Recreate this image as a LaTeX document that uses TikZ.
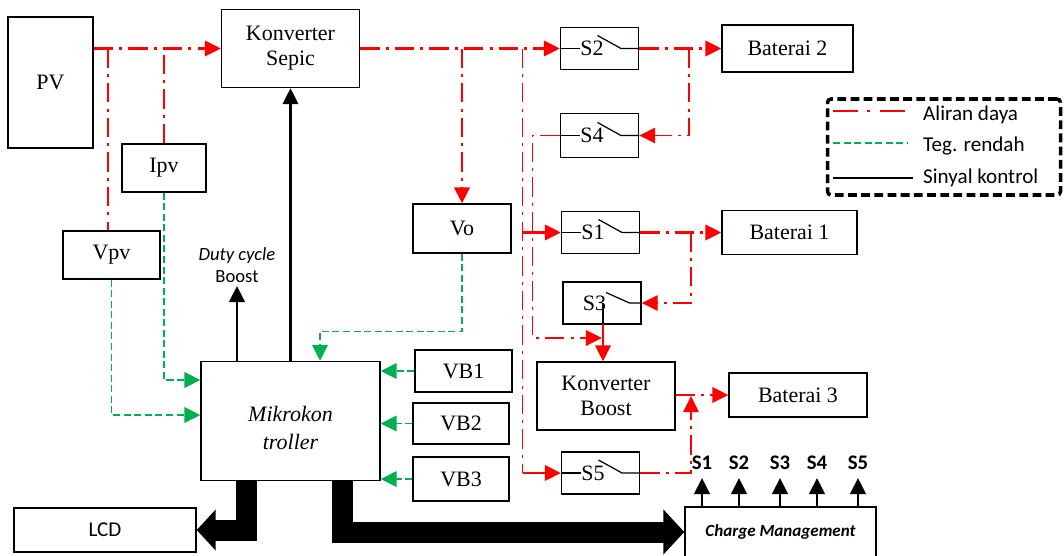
\documentclass[tikz,border=0pt]{standalone}
\usepackage{fontspec}
\setmainfont{Liberation Serif}
\newfontfamily\calibri{Carlito}
\usetikzlibrary{arrows.meta}

\definecolor{dayared}{RGB}{255,0,0}
\definecolor{teggreen}{RGB}{0,176,80}

\begin{document}
\begin{tikzpicture}[every node/.style={font=\fontsize{12.5}{14.2}\selectfont}, line cap=butt, >={Triangle[length=0.32cm,width=0.31cm]},
  blok/.style={draw, line width=0.8pt, inner sep=1pt, align=center},
  sw/.style={blok, minimum width=1.56cm, minimum height=0.84cm},
  sans/.style={font=\calibri\fontsize{12}{14}\selectfont},
  daya/.style={draw=dayared, line width=1.2pt, dash pattern=on 11pt off 3.5pt on 1.7pt off 3.5pt},
  dayatipis/.style={daya, line width=0.8pt},
  dayalurus/.style={daya, solid},
  teg/.style={draw=teggreen, line width=1.1pt, dash pattern=on 4pt off 2pt},
  kontrol/.style={draw=black, line width=1.4pt},
  wire/.style={draw, line width=0.7pt},
  fat/.style={draw, line width=0.42cm}]

\useasboundingbox (0,0) rectangle (21.28,11.1);

% ---------- sumber, sensor dan konverter ----------
\node[blok, minimum width=1.70cm, minimum height=2.62cm] (pv) at (1.01,9.45) {PV};
\node[blok, minimum width=2.76cm, minimum height=1.56cm] (sepic) at (5.81,10.13) {Konverter\\Sepic};
\node[blok, minimum width=1.68cm, minimum height=0.96cm] (ipv) at (3.28,7.74) {Ipv};
\node[blok, minimum width=1.94cm, minimum height=0.96cm] (vpv) at (2.23,6.00) {Vpv};
\node[blok, minimum width=1.96cm, minimum height=0.98cm] (vo) at (9.24,6.53) {Vo};
\node[blok, minimum width=3.58cm, minimum height=2.38cm, font=\itshape\fontsize{12.5}{16}\selectfont] (mcu) at (5.81,2.68) {\rule{0pt}{0.58cm}Mikrokon\\troller};
\node[blok, minimum width=1.94cm, minimum height=0.84cm] (vb1) at (9.27,3.68) {VB1};
\node[blok, minimum width=1.92cm, minimum height=0.82cm] (vb2) at (9.22,2.63) {VB2};
\node[blok, minimum width=1.92cm, minimum height=0.88cm] (vb3) at (9.22,1.52) {VB3};
\node[blok, sans, minimum width=3.64cm, minimum height=0.88cm] (lcd) at (2.10,0.50) {LCD};
\node[blok, font=\calibri\bfseries\itshape\fontsize{9.7}{12}\selectfont, minimum width=3.82cm, minimum height=1.0cm] (chg) at (15.61,0.46) {Charge Management};

% ---------- saklar dan baterai ----------
\node[sw] (s2) at (11.99,10.13) {S2\hspace{0.3cm}};
\node[sw, minimum height=0.88cm] (s4) at (11.99,8.39) {S4\hspace{0.3cm}};
\node[sw] (s1) at (12.01,6.45) {S1\hspace{0.3cm}};
\node[sw] (s3) at (12.04,5.04) {S3\hspace{0.3cm}};
\node[sw] (s5) at (12.01,1.64) {S5\hspace{0.3cm}};
\node[blok, minimum width=2.62cm, minimum height=0.94cm] (bat2) at (15.75,10.13) {Baterai 2};
\node[blok, minimum width=2.70cm, minimum height=0.88cm] (bat1) at (15.79,6.45) {Baterai 1};
\node[blok, minimum width=2.76cm, minimum height=1.36cm] (boost) at (12.12,3.18) {Konverter\\Boost};
\node[blok, minimum width=2.76cm, minimum height=0.88cm] (bat3) at (15.96,3.20) {Baterai 3};

% simbol saklar
\foreach \s in {s1,s2,s4,s5} {
  \draw[wire] (\s.west) -- ([xshift=-0.39cm]\s.center);
  \draw[wire] ([xshift=-0.04cm,yshift=0.26cm]\s.center) -- ([xshift=0.43cm]\s.center) -- (\s.east);
}
\draw[wire] ([xshift=0.08cm,yshift=0.21cm]s3.center) -- ([xshift=0.55cm]s3.center) -- (s3.east);
\coordinate (s3out) at (12.06,4.62);
\draw[wire] (s3out |- s3.center) -- (s3out);

% ---------- aliran daya ----------
\draw[daya,->] (pv.east |- sepic.west) -- (sepic.west);
\coordinate (jvpv) at (2.16,10.13);
\draw[dayatipis] (jvpv) -- (jvpv |- vpv.north);
\draw[dayatipis] (ipv.north) -- (ipv.north |- sepic.west);
\draw[daya,->] (sepic.east) -- (s2.west);
\draw[daya,->] (vo.north |- sepic.east) -- (vo.north);
\coordinate (bus) at (10.45,10.13);
\draw[dayatipis] (bus) -- (bus |- s5.west);
\draw[dayalurus,->] (bus |- s1.west) -- (s1.west);
\draw[dayalurus,->] (bus |- s5.west) -- (s5.west);
\draw[daya,->] (s2.east) -- (bat2.west);
\coordinate (j2) at (13.78,10.13);
\draw[dayatipis,->] (j2) |- (s4.east);
\coordinate (k4) at (10.65,4.34);
\draw[dayatipis,->,shorten >=0.6pt] (s4.west) -| (k4) -- (k4 -| s3out);
\draw[daya,->] (s1.east) -- (bat1.west);
\coordinate (j1) at (13.82,6.45);
\draw[dayatipis,->] (j1) |- (s3.east);
\draw[dayalurus,->] (s3out) -- (s3out |- boost.north);
\draw[daya,->] (boost.east |- bat3.west) -- (bat3.west);
\coordinate (j5) at (13.82,3.20);
\draw[dayatipis,->,shorten >=0.6pt] (s5.east) -| (j5);

% ---------- tegangan rendah ----------
\draw[teg,->] (vpv.south) |- ([yshift=0.12cm]mcu.west);
\draw[teg,->] (ipv.south) |- ([yshift=0.82cm]mcu.west);
\coordinate (vobend) at (6.40,4.47);
\draw[teg,->] (vo.south) |- (vobend) -- (vobend |- mcu.north);
\foreach \v in {vb1,vb2,vb3}
  \draw[teg,->] (\v.west) -- (mcu.east |- \v.west);

% ---------- sinyal kontrol ----------
\draw[kontrol,->] (mcu.north -| sepic.south) -- (sepic.south);
\node[font=\calibri\fontsize{10.6}{12.5}\selectfont, align=center, anchor=south, inner sep=2pt] (duty) at (4.74,5.38) {\textit{Duty cycle}\\Boost};
\draw[kontrol,->] (mcu.north -| duty.south) -- (duty.south);
\foreach \i/\x in {1/14.04,2/14.78,3/15.60,4/16.34,5/17.16} {
  \node[font=\calibri\bfseries\fontsize{11.8}{13}\selectfont, anchor=south, inner sep=4.5pt] (lab\i) at (\x,1.54) {S\i};
  \draw[kontrol,->] (lab\i.south |- chg.north) -- (lab\i.south);
}
\draw[fat, -{Triangle[length=0.38cm,width=0.80cm]}] ([xshift=-0.88cm]mcu.south) |- (lcd.east);
\draw[fat, -{Triangle[length=0.42cm,width=0.88cm]}] ([xshift=1.03cm]mcu.south) |- (chg.west);

% ---------- keterangan ----------
\node[draw, line width=2pt, dash pattern=on 5pt off 2.5pt, rounded corners=2pt, minimum width=4.66cm, minimum height=1.92cm] (legend) at (18.88,8.16) {};
\node[sans, anchor=west] (l1) at (18.34,8.81) {Aliran daya};
\node[sans, anchor=west] (l2) at (18.34,8.18) {Teg. rendah};
\node[sans, anchor=west] (l3) at (18.34,7.54) {Sinyal kontrol};
\draw[daya, line width=1.4pt, dash pattern=on 14pt off 5.5pt on 1.7pt off 5.5pt] ([xshift=-1.68cm,yshift=0.07cm]l1.west) -- ([xshift=-0.2cm,yshift=0.07cm]l1.west);
\draw[teg, line width=1.4pt] ([xshift=-1.68cm,yshift=0.06cm]l2.west) -- ([xshift=-0.2cm,yshift=0.06cm]l2.west);
\draw[kontrol, line width=1.7pt] ([xshift=-1.68cm]l3.west) -- ([xshift=-0.08cm]l3.west);

\end{tikzpicture}
\end{document}
